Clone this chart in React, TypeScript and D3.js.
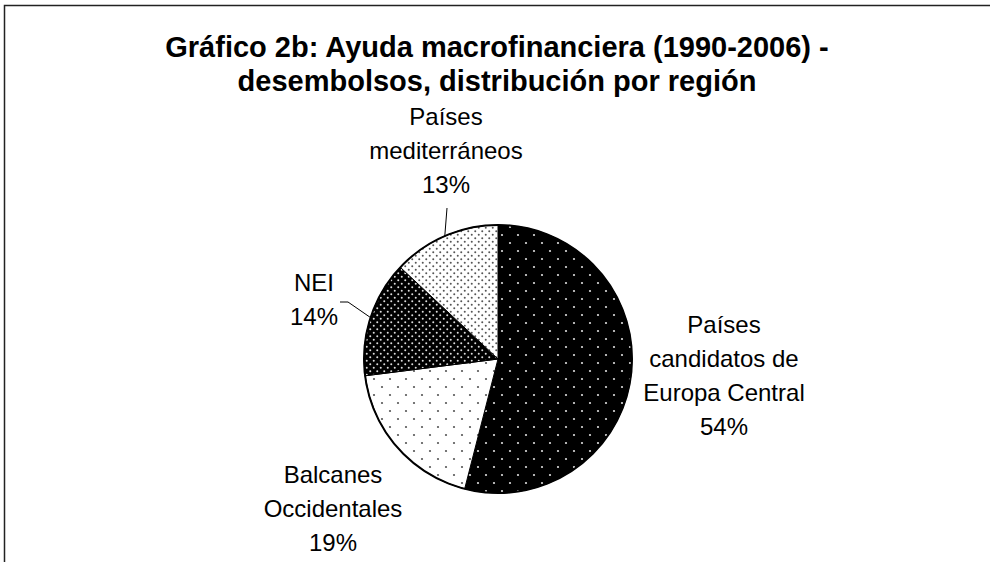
import React from 'react';
import * as d3 from 'd3';

// chart data
const categories = ['Países candidatos de Europa Central', 'Balcanes Occidentales', 'NEI', 'Países mediterráneos'];
const shares = [54, 19, 14, 13];
const labelLines = [
    ['Países', 'candidatos de', 'Europa Central'],
    ['Balcanes', 'Occidentales'],
    ['NEI'],
    ['Países', 'mediterráneos'],
];
const titleLines = ['Gráfico 2b: Ayuda macrofinanciera (1990-2006) -', 'desembolsos, distribución por región'];

// layout
const width = 990;
const height = 562;
const cx = 498;
const cy = 359;
const radius = 134;
const labelCenters = [[724, 376], [333, 509], [314, 300], [446, 151]];
const patternIds = ['pCand', 'pBalc', 'pNei', 'pMed'];
const font = '"Liberation Sans", Arial, sans-serif';

const App = () => {
    const pie = d3.pie<number>().sort(null).value(d => d);
    const arcs = pie(shares);
    const arc = d3.arc<d3.PieArcDatum<number>>().innerRadius(0).outerRadius(radius);
    const edge = d3.arc<d3.PieArcDatum<number>>().innerRadius(radius).outerRadius(radius);

    // leader lines: from the slice's outer mid-point towards its label
    const leaders = arcs.map((a, i) => {
        const p = edge.centroid(a);
        const start: [number, number] = [cx + p[0], cy + p[1]];
        if (i === 2) return [start, [348, 302], [340, 302]];
        if (i === 3) return [start, [447, 208]];
        return null;
    });

    return (
        <svg width={width} height={height} style={{ position: 'absolute', left: 0, top: 0 }} fontFamily={font}>
            <defs>
                <pattern id="pCand" width={16} height={16} patternUnits="userSpaceOnUse">
                    <rect width={16} height={16} fill="#000" />
                    <circle cx={4} cy={4} r={1.1} fill="#ddd" />
                    <circle cx={12} cy={12} r={1.1} fill="#ddd" />
                </pattern>
                <pattern id="pBalc" width={16} height={16} patternUnits="userSpaceOnUse">
                    <rect width={16} height={16} fill="#fff" />
                    <circle cx={4} cy={4} r={1.1} fill="#555" />
                    <circle cx={12} cy={12} r={1.1} fill="#555" />
                </pattern>
                <pattern id="pNei" width={7} height={7} patternUnits="userSpaceOnUse">
                    <rect width={7} height={7} fill="#000" />
                    <circle cx={1.75} cy={1.75} r={1} fill="#ddd" />
                    <circle cx={5.25} cy={5.25} r={1} fill="#ddd" />
                </pattern>
                <pattern id="pMed" width={7} height={7} patternUnits="userSpaceOnUse">
                    <rect width={7} height={7} fill="#fff" />
                    <circle cx={1.75} cy={1.75} r={1} fill="#555" />
                    <circle cx={5.25} cy={5.25} r={1} fill="#555" />
                </pattern>
            </defs>
            <rect width={width} height={height} fill="#fff" />
            <path d={`M4.5,${height} V5.5 H${width}`} fill="none" stroke="#222" strokeWidth={1.5} />

            {titleLines.map((t, i) => (
                <text key={t} x={497} y={57 + i * 34} textAnchor="middle" fontSize={29} fontWeight="bold" fill="#000">{t}</text>
            ))}

            <g transform={`translate(${cx},${cy})`}>
                {arcs.map((a, i) => (
                    <path key={categories[i]} d={arc(a) || ''} fill={`url(#${patternIds[i]})`} stroke="#000" strokeWidth={1} />
                ))}
                <circle r={radius} fill="none" stroke="#000" strokeWidth={2} />
            </g>

            {leaders.map((pts, i) => pts && (
                <polyline key={i} points={pts.map(p => p.join(',')).join(' ')} fill="none" stroke="#000" strokeWidth={1} />
            ))}

            {labelLines.map((lines, i) => {
                const all = [...lines, `${shares[i]}%`];
                const [lx, ly] = labelCenters[i];
                return (
                    <text key={categories[i]} textAnchor="middle" fontSize={24} fill="#000">
                        {all.map((s, j) => (
                            <tspan key={j} x={lx} y={ly + (j - (all.length - 1) / 2) * 34 + 8}>{s}</tspan>
                        ))}
                    </text>
                );
            })}
        </svg>
    );
};

export default App;
